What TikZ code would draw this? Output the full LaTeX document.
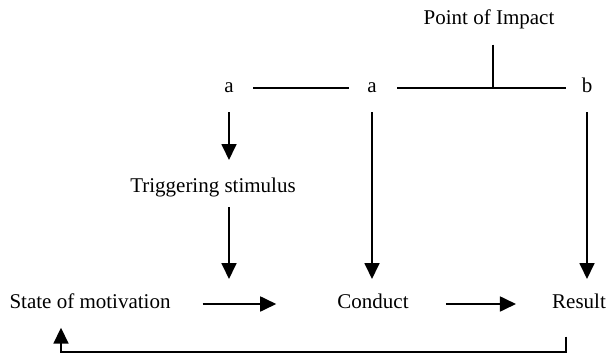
\documentclass[tikz,border=0pt]{standalone}
\usepackage{fontspec}
\setmainfont{Liberation Serif}
\usetikzlibrary{arrows.meta}
\tikzset{
  lbl/.style={inner sep=0pt, text height=14pt, text depth=5pt, font=\fontsize{21pt}{25pt}\selectfont},
  ln/.style={line width=1.8pt},
  arr/.style={line width=1.8pt, -{Triangle[length=16pt,width=15pt]}}
}
\begin{document}
\begin{tikzpicture}[x=1pt,y=-1pt]
\useasboundingbox (0,0) rectangle (608,354);
% nodes
\node[lbl] (pt) at (489,20) {Point of Impact};
\node[lbl] (a1) at (229,88) {a};
\node[lbl] (a2) at (372,88) {a};
\node[lbl] (b) at (587,88) {b};
\node[lbl] (trig) at (213,188) {Triggering stimulus};
\node[lbl] (state) at (90,304) {State of motivation};
\node[lbl] (conduct) at (373,304) {Conduct};
\node[lbl] (result) at (579,304) {Result};
\coordinate (imp) at (493,88);
\coordinate (fbc) at (300,352);
% top line
\draw[ln, shorten <=24pt, shorten >=23pt] (a1.center) -- (a2.center);
\draw[ln, shorten <=25pt, shorten >=21pt] (a2.center) -- (b.center);
\draw[ln, shorten <=15pt] (pt.south -| imp) -- (imp);
% vertical arrows
\draw[arr, shorten <=24pt, shorten >=28pt] (a1.center) -- (a1.center |- trig.center);
\draw[arr, shorten <=19pt, shorten >=25pt] (a1.center |- trig.center) -- (a1.center |- state.center);
\draw[arr, shorten <=24pt, shorten >=25pt] (a2.center) -- (a2.center |- conduct.center);
\draw[arr, shorten <=24pt, shorten >=25pt] (b.center) -- (b.center |- result.center);
% horizontal arrows
\draw[arr, shorten <=32pt, shorten >=61pt] (state.east) -- (conduct.west);
\draw[arr, shorten <=37pt, shorten >=36pt] (conduct.east) -- (result.west);
% feedback
\draw[arr, shorten <=23pt, shorten >=14pt] ([xshift=-13pt]result.south) |- (fbc) -| ([xshift=-29pt]state.south);
\end{tikzpicture}
\end{document}
